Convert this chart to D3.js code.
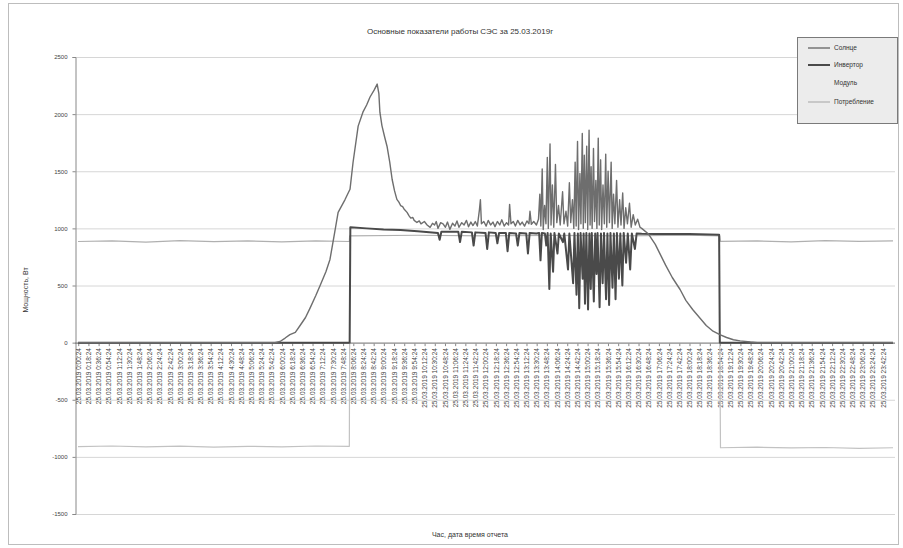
<!DOCTYPE html>
<html lang="ru">
<head>
    <meta charset="UTF-8">
    <script src="https://d3js.org/d3.v7.min.js"></script>
    <style>
        body { margin: 0; background: #fff; font-family: Arial, "Liberation Sans", sans-serif; }
        svg text { fill: #333; }
    </style>
</head>
<body>
<div id="chart"></div>
<script>
    const chartTitle = "Основные показатели работы СЭС за 25.03.2019г";
    const yTitle = "Мощность, Вт";
    const xTitle = "Час, дата время отчета";
    const dateStr = "25.03.2019";

    const yTicks = [-1500, -1000, -500, 0, 500, 1000, 1500, 2000, 2500];

    const tickLabels = [
        "0:00:24","0:18:24","0:36:24","0:54:24","1:12:24","1:30:24","1:48:24","2:06:24","2:24:24","2:42:24",
        "3:00:24","3:18:24","3:36:24","3:54:24","4:12:24","4:30:24","4:48:24","5:06:24","5:24:24","5:42:24",
        "6:00:24","6:18:24","6:36:24","6:54:24","7:12:24","7:30:24","7:48:24","8:06:24","8:24:24","8:42:24",
        "9:00:24","9:18:24","9:36:24","9:54:24","10:12:24","10:30:24","10:48:24","11:06:24","11:24:24","11:42:24",
        "12:00:24","12:18:24","12:36:24","12:54:24","13:12:24","13:30:24","13:48:24","14:06:24","14:24:24","14:42:24",
        "15:00:24","15:18:24","15:36:24","15:54:24","16:12:24","16:30:24","16:48:24","17:06:24","17:24:24","17:42:24",
        "18:00:24","18:18:24","18:36:24","18:54:24","19:12:24","19:30:24","19:48:24","20:06:24","20:24:24","20:42:24",
        "21:00:24","21:18:24","21:36:24","21:54:24","22:12:24","22:30:24","22:48:24","23:06:24","23:24:24","23:42:24"
    ];

    // Солнце: [час, Вт]
    const sunData = [
        [0,0],[5.8,0],[5.95,10],[6.1,40],[6.24,70],[6.4,90],[6.54,150],[6.7,220],[6.83,300],[7.0,410],
        [7.13,500],[7.3,620],[7.42,728],[7.55,950],[7.66,1140],[7.86,1250],[8.01,1342],[8.1,1579],[8.25,1895],
        [8.39,2017],[8.5,2080],[8.6,2150],[8.72,2210],[8.81,2263],[8.86,2180],[8.89,2017],[8.95,1900],[9.03,1800],[9.1,1719],
        [9.18,1580],[9.25,1430],[9.32,1330],[9.39,1254],[9.45,1230],[9.5,1200],[9.56,1190],[9.6,1170],[9.69,1140],[9.75,1110],
        [9.8,1090],[9.86,1095],[9.9,1070],[9.98,1052],[10.05,1065],[10.1,1040],[10.2,1060],[10.28,1030],[10.37,1009],
        [10.44,1045],[10.5,1030],[10.55,1060],[10.6,1000],[10.68,1050],[10.75,1040],[10.82,1010],[10.88,1055],[10.95,991],
        [11.03,1045],[11.1,1020],[11.16,1065],[11.22,1010],[11.3,1050],[11.37,1030],[11.44,1070],[11.5,1015],
        [11.57,1055],[11.63,1025],[11.7,1060],[11.76,1020],[11.82,1160],[11.85,1250],[11.88,1040],[11.95,1060],
        [12.02,1020],[12.08,1070],[12.15,1030],[12.22,1055],[12.28,1015],[12.35,1060],[12.42,1030],[12.48,1075],
        [12.55,1020],[12.62,1050],[12.68,1030],[12.71,1210],[12.75,1040],[12.82,1060],[12.88,1020],[12.95,1070],
        [13.02,1030],[13.08,1055],[13.15,1020],[13.22,1065],[13.28,1040],[13.31,1150],[13.35,1035],[13.42,1060],[13.5,1030],
        [13.56,1080],[13.6,1300],[13.63,1020],[13.67,1520],[13.7,990],[13.74,1200],[13.78,1040],[13.82,1620],
        [13.85,1000],[13.9,1740],[13.93,1030],[13.97,1380],[14.01,1010],[14.06,1560],[14.1,1050],[14.15,1200],
        [14.2,1030],[14.27,1320],[14.31,1040],[14.37,1150],[14.42,1020],[14.47,1400],[14.51,1050],[14.56,1250],
        [14.6,1000],[14.64,1580],[14.67,1020],[14.71,1760],[14.74,990],[14.78,1480],[14.81,1040],[14.85,1830],
        [14.88,1000],[14.91,1640],[14.94,1050],[14.98,1720],[15.01,990],[15.05,1860],[15.08,1030],[15.11,1540],
        [15.14,1000],[15.18,1700],[15.21,1060],[15.25,1420],[15.28,1000],[15.32,1790],[15.35,1030],[15.39,1600],
        [15.42,990],[15.46,1380],[15.5,1040],[15.54,1650],[15.57,1010],[15.61,1500],[15.65,1050],[15.7,1580],
        [15.73,1000],[15.77,1300],[15.81,1040],[15.86,1420],[15.9,1010],[15.95,1250],[15.99,1030],[16.04,1310],
        [16.08,1000],[16.13,1180],[16.18,1040],[16.24,1220],[16.29,1010],[16.35,1120],[16.41,1030],[16.48,1080],
        [16.55,1010],
        [16.6,1000],[16.8,950],[17.0,860],[17.15,770],[17.3,680],[17.5,570],[17.73,465],[17.9,370],[18.1,290],
        [18.3,220],[18.5,150],[18.7,100],[18.9,70],[19.1,45],[19.3,25],[19.5,15],[19.8,5],[20.0,0],[24,0]
    ];

    // Инвертор
    const invData = [
        [0,0],[8.0,0],[8.02,1010],[8.5,1000],[9.0,990],[9.5,985],[10.0,975],
        [10.6,960],[10.65,900],[10.7,970],[11.2,970],[11.25,880],[11.3,970],[11.6,965],[11.65,850],[11.7,965],
        [12.0,960],[12.05,820],[12.1,965],[12.3,960],[12.35,870],[12.4,960],[12.6,960],[12.65,800],[12.7,960],
        [12.9,955],[12.95,850],[13.0,960],[13.2,955],[13.25,780],[13.3,960],[13.5,955],
        [13.58,960],[13.62,720],[13.66,960],[13.75,955],[13.79,850],[13.83,960],[13.88,470],[13.92,955],
        [13.99,620],[14.03,960],[14.12,780],[14.16,955],[14.28,880],[14.32,955],[14.43,640],[14.47,955],
        [14.58,520],[14.62,960],[14.68,420],[14.72,955],[14.76,300],[14.8,960],[14.86,560],[14.89,955],
        [14.93,340],[14.97,960],[15.02,290],[15.06,955],[15.1,470],[15.13,960],[15.19,360],[15.23,955],
        [15.27,600],[15.3,960],[15.36,310],[15.4,955],[15.45,520],[15.49,960],[15.55,380],[15.59,955],
        [15.64,330],[15.68,960],[15.74,480],[15.78,955],[15.83,380],[15.87,960],[15.93,560],[15.97,955],
        [16.03,500],[16.07,960],[16.14,700],[16.19,955],[16.26,640],[16.31,955],[16.4,820],[16.45,955],
        [16.6,952],[17.0,950],[18.0,950],[18.88,945],[18.9,0],[24,0]
    ];

    // Модуль
    const modData = [
        [0,-910],[1,-905],[2,-912],[3,-906],[4,-915],[5,-908],[6,-912],[7,-905],[7.99,-908],[8.0,0],
        [18.9,0],[18.92,-920],[20,-915],[21,-922],[22,-918],[23,-925],[24,-920]
    ];

    // Потребление
    const loadData = [
        [0,885],[1,890],[2,880],[3,892],[4,884],[5,890],[6,881],[7,891],[7.99,885],[8.0,935],
        [10,940],[12,935],[14,938],[16,935],[18,940],[18.9,935],[18.92,886],[20,890],[21,882],[22,892],[23,886],[24,890]
    ];

    const series = [
        { name: "Солнце", data: sunData, color: "#6e6e6e", width: 1.4 },
        { name: "Инвертор", data: invData, color: "#4a4a4a", width: 2 },
        { name: "Модуль", data: modData, color: "#c2c2c2", width: 1.2 },
        { name: "Потребление", data: loadData, color: "#b0b0b0", width: 1.2 }
    ];

    const width = 903, height = 548;
    const plot = { left: 75, right: 895, top: 57, bottom: 514 };

    const svg = d3.select("#chart").append("svg")
        .attr("width", width)
        .attr("height", height);

    svg.append("rect")
        .attr("x", 8.5).attr("y", 3.5)
        .attr("width", 890).attr("height", 541)
        .attr("fill", "#fff")
        .attr("stroke", "#bdbdbd");

    const x = d3.scaleLinear().domain([0, 24]).range([78, 893]);
    const y = d3.scaleLinear().domain([-1500, 2500]).range([plot.bottom, plot.top]);

    // сетка
    svg.append("g")
        .selectAll("line")
        .data(yTicks)
        .enter().append("line")
        .attr("x1", plot.left).attr("x2", plot.right)
        .attr("y1", d => y(d) + 0.5).attr("y2", d => y(d) + 0.5)
        .attr("stroke", "#d6d6d6");

    const yAxis = svg.append("g")
        .attr("transform", `translate(${plot.left + 0.5},0)`)
        .call(d3.axisLeft(y).tickValues(yTicks).tickFormat(d => d).tickSize(3).tickPadding(5));
    yAxis.select(".domain").attr("stroke", "#888");
    yAxis.selectAll(".tick line").attr("stroke", "#888");
    yAxis.selectAll("text").attr("font-size", "6px").style("fill", "#444");

    const tickHours = tickLabels.map(s => {
        const p = s.split(":").map(Number);
        return p[0] + p[1] / 60 + p[2] / 3600;
    });

    const xAxis = svg.append("g")
        .attr("transform", `translate(0,${y(0) + 0.5})`)
        .call(d3.axisBottom(x)
            .tickValues(tickHours)
            .tickSize(3)
            .tickFormat((d, i) => `${dateStr} ${tickLabels[i]}`));
    xAxis.select(".domain").attr("stroke", "#777").attr("d", `M${plot.left},0H${plot.right}`);
    xAxis.selectAll(".tick line").attr("stroke", "#888");
    xAxis.selectAll("text")
        .attr("font-size", "6.5px")
        .style("fill", "#444")
        .attr("text-anchor", "end")
        .attr("transform", "rotate(-90)")
        .attr("x", -5)
        .attr("y", 0)
        .attr("dy", "0.32em");

    const line = d3.line()
        .x(d => x(d[0]))
        .y(d => y(d[1]));

    // рисуем в обратном порядке, чтобы Солнце было сверху
    svg.append("g")
        .selectAll("path")
        .data(series.slice().reverse())
        .enter().append("path")
        .attr("d", d => line(d.data))
        .attr("fill", "none")
        .attr("stroke", d => d.color)
        .attr("stroke-width", d => d.width)
        .attr("stroke-linejoin", "round");

    svg.append("text")
        .attr("x", 460).attr("y", 34)
        .attr("text-anchor", "middle")
        .attr("font-size", "8px")
        .text(chartTitle);

    svg.append("text")
        .attr("transform", "translate(28,290) rotate(-90)")
        .attr("text-anchor", "middle")
        .attr("font-size", "7px")
        .text(yTitle);

    svg.append("text")
        .attr("x", 470).attr("y", 537)
        .attr("text-anchor", "middle")
        .attr("font-size", "7px")
        .text(xTitle);

    // легенда
    const legend = svg.append("g").attr("transform", "translate(797,37)");
    legend.append("rect")
        .attr("x", 0.5).attr("y", 0.5)
        .attr("width", 100).attr("height", 86)
        .attr("fill", "#ececec")
        .attr("stroke", "#7a7a7a");
    const legendY = [11, 28, 46, 65];
    series.forEach((s, i) => {
        legend.append("line")
            .attr("x1", 11).attr("x2", 33)
            .attr("y1", legendY[i]).attr("y2", legendY[i])
            .attr("stroke", s.name === "Модуль" ? "#ececec" : s.color)
            .attr("stroke-width", s.width);
        legend.append("text")
            .attr("x", 37).attr("y", legendY[i])
            .attr("dy", "0.32em")
            .attr("font-size", "6.5px")
            .text(s.name);
    });
</script>
</body>
</html>
